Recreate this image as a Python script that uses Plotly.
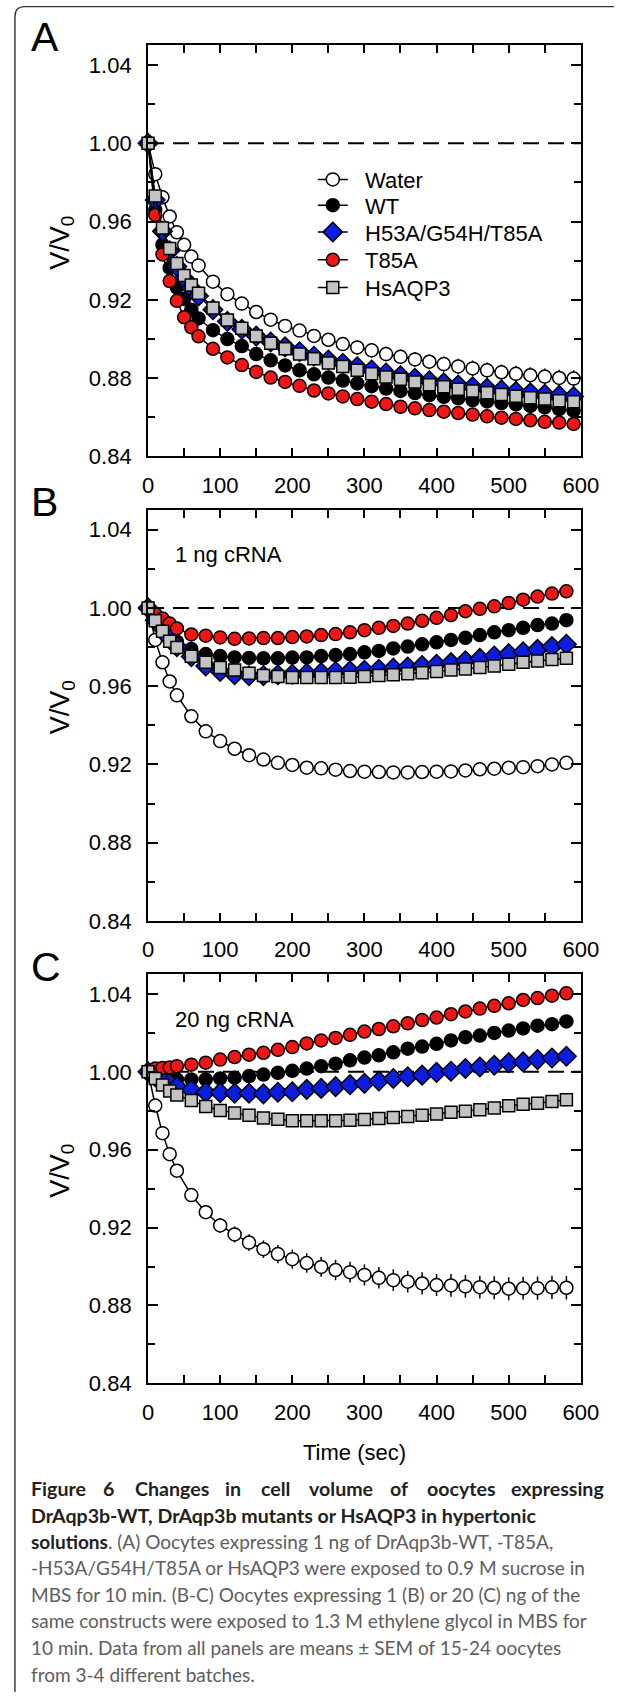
import plotly.graph_objects as go

W, H = 627, 1700

# ---------------- data ----------------
time_A = [0, 10, 20, 30, 40, 50, 60, 70, 90, 110, 130, 150, 170, 190, 210, 230, 250,
          270, 290, 310, 330, 350, 370, 390, 410, 430, 450, 470, 490, 510, 530, 550, 570, 590]
time_BC = [0, 10, 20, 30, 40, 60, 80, 100, 120, 140, 160, 180, 200, 220, 240, 260,
           280, 300, 320, 340, 360, 380, 400, 420, 440, 460, 480, 500, 520, 540, 560, 580]

series_names = ["Water", "WT", "H53A/G54H/T85A", "T85A", "HsAQP3"]

water_A = [1.000, 0.9842, 0.9724, 0.9626, 0.9545, 0.9481, 0.9421, 0.9376, 0.9293, 0.9229, 0.9181,
           0.9138, 0.9099, 0.9067, 0.9043, 0.9016, 0.8996, 0.8974, 0.8957, 0.8942, 0.8923, 0.8909,
           0.8896, 0.8884, 0.8872, 0.8860, 0.8850, 0.8840, 0.8830, 0.8822, 0.8815, 0.8808, 0.8801, 0.8798]
wt_A = [1.000, 0.9660, 0.9482, 0.9364, 0.9263, 0.9205, 0.9150, 0.9105, 0.9045, 0.9000, 0.8964,
        0.8923, 0.8891, 0.8865, 0.8840, 0.8820, 0.8803, 0.8788, 0.8773, 0.8759, 0.8747, 0.8735,
        0.8724, 0.8713, 0.8705, 0.8697, 0.8688, 0.8681, 0.8673, 0.8666, 0.8658, 0.8651, 0.8642, 0.8634]
h53_A = [1.000, 0.9710, 0.9550, 0.9450, 0.9370, 0.9310, 0.9260, 0.9220, 0.9150, 0.9090, 0.9050,
         0.9015, 0.8985, 0.8960, 0.8935, 0.8912, 0.8893, 0.8876, 0.8858, 0.8842, 0.8826, 0.8812,
         0.8799, 0.8787, 0.8776, 0.8765, 0.8756, 0.8748, 0.8740, 0.8732, 0.8725, 0.8718, 0.8712, 0.8706]
t85a_A = [1.000, 0.9634, 0.9432, 0.9296, 0.9195, 0.9111, 0.9060, 0.9014, 0.8950, 0.8906, 0.8867,
          0.8832, 0.8803, 0.8781, 0.8761, 0.8737, 0.8722, 0.8707, 0.8693, 0.8680, 0.8668, 0.8654,
          0.8646, 0.8637, 0.8629, 0.8622, 0.8614, 0.8605, 0.8598, 0.8592, 0.8585, 0.8577, 0.8573, 0.8566]
hs_A = [1.000, 0.9731, 0.9567, 0.9462, 0.9386, 0.9325, 0.9276, 0.9234, 0.9158, 0.9097, 0.9055,
        0.9016, 0.8979, 0.8950, 0.8923, 0.8899, 0.8877, 0.8860, 0.8840, 0.8823, 0.8806, 0.8794,
        0.8781, 0.8767, 0.8756, 0.8744, 0.8734, 0.8725, 0.8717, 0.8708, 0.8700, 0.8693, 0.8685, 0.8680]
sem_water_A = [0, .0010, .0014, .0017, .0019, .0021, .0023, .0024, .0026, .0028, .0029, .0030,
               .0031, .0032, .0033, .0034, .0034, .0035, .0036, .0036, .0037, .0037, .0038, .0038,
               .0039, .0039, .0040, .0040, .0040, .0041, .0041, .0041, .0042, .0042]
sem_expr_A = [0, .0008, .0011, .0013, .0015, .0017, .0018, .0019, .0021, .0022, .0023, .0024,
              .0025, .0026, .0026, .0027, .0027, .0028, .0028, .0029, .0029, .0030, .0030, .0030,
              .0031, .0031, .0031, .0032, .0032, .0032, .0033, .0033, .0033, .0034]

water_B = [1.000, 0.9836, 0.9722, 0.9624, 0.9553, 0.9446, 0.9369, 0.9319, 0.9280, 0.9247, 0.9225,
           0.9208, 0.9197, 0.9183, 0.9180, 0.9173, 0.9166, 0.9163, 0.9161, 0.9159, 0.9159, 0.9161,
           0.9163, 0.9164, 0.9169, 0.9175, 0.9178, 0.9183, 0.9186, 0.9191, 0.9200, 0.9208]
wt_B = [1.000, 0.9963, 0.9920, 0.9869, 0.9827, 0.9790, 0.9764, 0.9754, 0.9747, 0.9744, 0.9742,
        0.9742, 0.9746, 0.9747, 0.9754, 0.9759, 0.9764, 0.9773, 0.9780, 0.9793, 0.9802, 0.9814,
        0.9824, 0.9836, 0.9847, 0.9861, 0.9875, 0.9886, 0.9898, 0.9912, 0.9920, 0.9937]
h53_B = [1.000, 0.9937, 0.9895, 0.9844, 0.9802, 0.9751, 0.9703, 0.9675, 0.9658, 0.9653, 0.9654,
         0.9658, 0.9661, 0.9666, 0.9669, 0.9675, 0.9678, 0.9681, 0.9686, 0.9692, 0.9698, 0.9705,
         0.9712, 0.9720, 0.9730, 0.9742, 0.9754, 0.9766, 0.9776, 0.9788, 0.9802, 0.9814]
t85a_B = [1.000, 0.9969, 0.9946, 0.9920, 0.9895, 0.9864, 0.9858, 0.9849, 0.9842, 0.9844, 0.9846,
          0.9846, 0.9851, 0.9854, 0.9861, 0.9866, 0.9875, 0.9886, 0.9898, 0.9908, 0.9920, 0.9934,
          0.9949, 0.9963, 0.9983, 0.9995, 1.0008, 1.0025, 1.0042, 1.0058, 1.0073, 1.0085]
hs_B = [1.000, 0.9934, 0.9881, 0.9830, 0.9797, 0.9753, 0.9722, 0.9695, 0.9683, 0.9666, 0.9654,
        0.9649, 0.9644, 0.9644, 0.9644, 0.9644, 0.9646, 0.9649, 0.9654, 0.9658, 0.9663, 0.9669,
        0.9675, 0.9683, 0.9688, 0.9695, 0.9703, 0.9712, 0.9722, 0.9729, 0.9736, 0.9742]
sem_water_B = [0, .0006, .0008, .0009, .0010, .0011, .0012, .0012, .0013, .0013, .0013, .0014,
               .0014, .0014, .0014, .0015, .0015, .0015, .0015, .0015, .0015, .0015, .0016, .0016,
               .0016, .0016, .0016, .0016, .0016, .0016, .0017, .0017]
sem_expr_B = [0, .0004, .0005, .0006, .0006, .0007, .0007, .0007, .0008, .0008, .0008, .0008,
              .0008, .0008, .0008, .0008, .0009, .0009, .0009, .0009, .0009, .0009, .0009, .0009,
              .0009, .0009, .0010, .0010, .0010, .0010, .0010, .0010]

water_C = [1.000, 0.9827, 0.9685, 0.9577, 0.9492, 0.9367, 0.9279, 0.9211, 0.9165, 0.9123, 0.9089,
           0.9064, 0.9038, 0.9018, 0.8998, 0.8982, 0.8971, 0.8957, 0.8942, 0.8930, 0.8922, 0.8913,
           0.8905, 0.8903, 0.8898, 0.8894, 0.8891, 0.8886, 0.8888, 0.8889, 0.8893, 0.8891]
wt_C = [1.000, 0.9980, 0.9966, 0.9963, 0.9961, 0.9961, 0.9961, 0.9966, 0.9970, 0.9978, 0.9986,
        0.9995, 1.0005, 1.0017, 1.0029, 1.0042, 1.0059, 1.0073, 1.0085, 1.0100, 1.0119, 1.0130,
        1.0144, 1.0161, 1.0178, 1.0186, 1.0200, 1.0212, 1.0223, 1.0237, 1.0245, 1.0259]
h53_C = [1.000, 0.9975, 0.9958, 0.9941, 0.9924, 0.9907, 0.9895, 0.9893, 0.9890, 0.9890, 0.9887,
         0.9895, 0.9898, 0.9910, 0.9915, 0.9924, 0.9934, 0.9941, 0.9953, 0.9966, 0.9975, 0.9983,
         0.9997, 1.0003, 1.0017, 1.0025, 1.0034, 1.0047, 1.0051, 1.0063, 1.0071, 1.0080]
t85a_C = [1.000, 1.0017, 1.0020, 1.0022, 1.0029, 1.0037, 1.0047, 1.0063, 1.0076, 1.0088, 1.0098,
          1.0113, 1.0127, 1.0146, 1.0161, 1.0174, 1.0190, 1.0207, 1.0220, 1.0234, 1.0249, 1.0266,
          1.0279, 1.0296, 1.0310, 1.0325, 1.0339, 1.0352, 1.0369, 1.0379, 1.0391, 1.0403]
hs_C = [1.000, 0.9966, 0.9932, 0.9902, 0.9881, 0.9853, 0.9822, 0.9802, 0.9788, 0.9777, 0.9763,
        0.9756, 0.9749, 0.9749, 0.9749, 0.9749, 0.9751, 0.9755, 0.9760, 0.9766, 0.9770, 0.9777,
        0.9783, 0.9792, 0.9797, 0.9805, 0.9814, 0.9826, 0.9834, 0.9839, 0.9848, 0.9856]
sem_water_C = [0, .0012, .0018, .0022, .0026, .0031, .0035, .0038, .0041, .0043, .0045, .0047,
               .0049, .0050, .0051, .0052, .0053, .0054, .0055, .0056, .0056, .0057, .0057, .0058,
               .0058, .0058, .0059, .0059, .0059, .0060, .0060, .0060]
sem_expr_C = [0, .0004, .0005, .0006, .0006, .0007, .0007, .0008, .0008, .0008, .0008, .0008,
              .0009, .0009, .0009, .0009, .0009, .0009, .0009, .0010, .0010, .0010, .0010, .0010,
              .0010, .0010, .0010, .0010, .0010, .0010, .0010, .0010]

x_ticks = [0, 100, 200, 300, 400, 500, 600]
y_ticks = [0.84, 0.88, 0.92, 0.96, 1.00, 1.04]

panels = [
    ("A", time_A, [water_A, wt_A, h53_A, t85a_A, hs_A],
     [sem_water_A, sem_expr_A, sem_expr_A, sem_expr_A, sem_expr_A], None),
    ("B", time_BC, [water_B, wt_B, h53_B, t85a_B, hs_B],
     [sem_water_B, sem_expr_B, sem_expr_B, sem_expr_B, sem_expr_B], "1 ng cRNA"),
    ("C", time_BC, [water_C, wt_C, h53_C, t85a_C, hs_C],
     [sem_water_C, sem_expr_C, sem_expr_C, sem_expr_C, sem_expr_C], "20 ng cRNA"),
]

# ---------------- layout helpers ----------------
def PX(x):
    return x / W

def PY(y):
    return 1 - y / H

X_LEFT, X_RIGHT = 147.7, 597.7
BOX_TB = [(45.7, 460.0), (514.0, 928.0), (982.0, 1394.0)]

AX_FONT = "Liberation Sans, Arial, Helvetica, sans-serif"
CAP_FONT = "Lato, 'Open Sans', sans-serif"

styles = [
    dict(symbol="circle", color="white", size=13),
    dict(symbol="circle", color="black", size=13),
    dict(symbol="diamond", color="#0b1ee0", size=15),
    dict(symbol="circle", color="#f01616", size=13),
    dict(symbol="square", color="#c3c3c3", size=12),
]
legend_y = [181, 207, 234, 262, 290]
NB = "\u00a0\u00a0"

fig = go.Figure()
layout = dict(
    width=W, height=H, margin=dict(l=0, r=0, t=0, b=0),
    paper_bgcolor="white", plot_bgcolor="white", showlegend=True,
    font=dict(family=AX_FONT, color="black"),
)
annotations = []
shapes = []

for i, (label, tvals, ys, sems, note) in enumerate(panels):
    sfx = "" if i == 0 else str(i + 1)
    top, bot = BOX_TB[i]
    for j, name in enumerate(series_names):
        st = styles[j]
        tr = dict(
            x=tvals, y=ys[j], name=NB + name, mode="lines+markers",
            xaxis="x" + sfx, yaxis="y" + sfx, cliponaxis=False,
            line=dict(color="black", width=1.5),
            marker=dict(symbol=st["symbol"], size=st["size"], color=st["color"],
                        line=dict(color="black", width=1.5)),
            error_y=dict(type="data", array=sems[j], color="black", thickness=1.5, width=0),
            showlegend=(i == 0),
        )
        if i == 0:
            tr["legend"] = "legend" if j == 0 else "legend%d" % (j + 1)
        fig.add_trace(go.Scatter(**tr))
    layout["xaxis" + sfx] = dict(
        domain=[PX(X_LEFT), PX(X_RIGHT)], range=[0, 600], anchor="y" + sfx,
        tickvals=x_ticks, ticks="inside", ticklen=8, tickwidth=2, tickcolor="black",
        minor=dict(dtick=50, tick0=0, ticks="inside", ticklen=8, tickwidth=2, tickcolor="black"),
        showline=True, linewidth=2, linecolor="black", mirror="ticks",
        showgrid=False, zeroline=False, tickfont=dict(size=22, family=AX_FONT),
        ticklabelstandoff=8,
    )
    layout["yaxis" + sfx] = dict(
        domain=[PY(bot), PY(top)], range=[0.84, 1.05], anchor="x" + sfx,
        tickvals=y_ticks, tickformat=".2f", ticks="inside", ticklen=10, tickwidth=2,
        tickcolor="black",
        minor=dict(dtick=0.02, tick0=0.84, ticks="inside", ticklen=7, tickwidth=2, tickcolor="black"),
        showline=True, linewidth=2, linecolor="black", mirror="ticks",
        showgrid=False, zeroline=False, tickfont=dict(size=22, family=AX_FONT),
        ticklabelstandoff=10,
    )
    # reference line at V/V0 = 1
    shapes.append(dict(type="line", xref="x" + sfx + " domain", yref="y" + sfx,
                       x0=0, x1=1, y0=1.0, y1=1.0, layer="below",
                       line=dict(color="black", width=2, dash="16px,9px")))
    # panel letter
    annotations.append(dict(text=label, x=PX(24), y=PY(top - 8), xref="paper", yref="paper",
                            xanchor="left", yanchor="middle", showarrow=False,
                            font=dict(size=41, family=AX_FONT)))
    # y title
    annotations.append(dict(text="V/V<sub>0</sub>", x=PX(58), y=PY((top + bot) / 2 - 8),
                            xref="paper", yref="paper", xanchor="center", yanchor="middle",
                            textangle=-90, showarrow=False, font=dict(size=27, family=AX_FONT)))
    if note:
        annotations.append(dict(text=note, x=PX(174), y=PY(top + 45), xref="paper", yref="paper",
                                xanchor="left", yanchor="middle", showarrow=False,
                                font=dict(size=22, family=AX_FONT)))

# legends (one entry each, placed like the original key)
for j in range(5):
    key = "legend" if j == 0 else "legend%d" % (j + 1)
    layout[key] = dict(x=PX(319), y=PY(legend_y[j]), xanchor="left", yanchor="middle",
                       bgcolor="rgba(0,0,0,0)", borderwidth=0, itemwidth=30,
                       font=dict(size=22, family=AX_FONT))

# x title
annotations.append(dict(text="Time (sec)", x=PX(362), y=PY(1464), xref="paper", yref="paper",
                        xanchor="center", yanchor="middle", showarrow=False,
                        font=dict(size=22, family=AX_FONT)))

# ---------------- caption ----------------
DARK = "#231f20"
GRAY = "#5d5d5d"
CAP_BOLD = 19.6
title_words = ["Figure", "6", "Changes", "in", "cell", "volume", "of", "oocytes", "expressing"]
# rough advance widths (em) of the bold caption face, used only to justify the first line
char_em = {"F": .54, "i": .25, "g": .52, "u": .56, "r": .37, "e": .52, "6": .58, "C": .66,
           "h": .56, "a": .50, "n": .56, "s": .42, "c": .45, "l": .25, "v": .51, "o": .56,
           "m": .84, "f": .33, "y": .51, "t": .35, "x": .50, "p": .56}
word_w = [sum(char_em.get(ch, .55) for ch in wd) * CAP_BOLD for wd in title_words]
line_left, line_right = 24, 614
gap = (line_right - line_left - sum(word_w)) / (len(title_words) - 1)
cursor = line_left
for wtxt, ww in zip(title_words, word_w):
    annotations.append(dict(text="<b>%s</b>" % wtxt, x=PX(cursor), y=PY(1500), xref="paper",
                            yref="paper", xanchor="left", yanchor="middle", showarrow=False,
                            font=dict(size=CAP_BOLD, family=CAP_FONT, color=DARK)))
    cursor += ww + gap
caption_lines = [
    "<b>DrAqp3b-WT, DrAqp3b mutants or HsAQP3 in hypertonic</b>",
    "<span style='color:%s'><b>solutions</b></span>. (A) Oocytes expressing 1 ng of DrAqp3b-WT, -T85A," % DARK,
    "-H53A/G54H/T85A or HsAQP3 were exposed to 0.9 M sucrose in",
    "MBS for 10 min. (B-C) Oocytes expressing 1 (B) or 20 (C) ng of the",
    "same constructs were exposed to 1.3 M ethylene glycol in MBS for",
    "10 min. Data from all panels are means \u00b1 SEM of 15-24 oocytes",
    "from 3-4 different batches.",
]
caption_y = [1527, 1553, 1580, 1607, 1633, 1660, 1687]
for k, (ltxt, ly) in enumerate(zip(caption_lines, caption_y)):
    annotations.append(dict(text=ltxt, x=PX(24), y=PY(ly), xref="paper", yref="paper",
                            xanchor="left", yanchor="middle", showarrow=False,
                            font=dict(size=CAP_BOLD if k == 0 else 19, family=CAP_FONT,
                                      color=DARK if k == 0 else GRAY)))

# outer frame (top + left with rounded corner)
fx, fy, r = 9.3, 6.7, 10
path = "M %.5f,%.5f L %.5f,%.5f Q %.5f,%.5f %.5f,%.5f L %.5f,%.5f" % (
    PX(fx), PY(H + 5), PX(fx), PY(fy + r), PX(fx), PY(fy), PX(fx + r), PY(fy), PX(W + 5), PY(fy))
shapes.append(dict(type="path", path=path, xref="paper", yref="paper",
                   line=dict(color="#333333", width=1.4)))

layout["annotations"] = annotations
layout["shapes"] = shapes
fig.update_layout(**layout)

fig.write_html("out.html", config={"displayModeBar": False},
               post_script="document.body.style.margin='0px';document.body.style.padding='0px';")
